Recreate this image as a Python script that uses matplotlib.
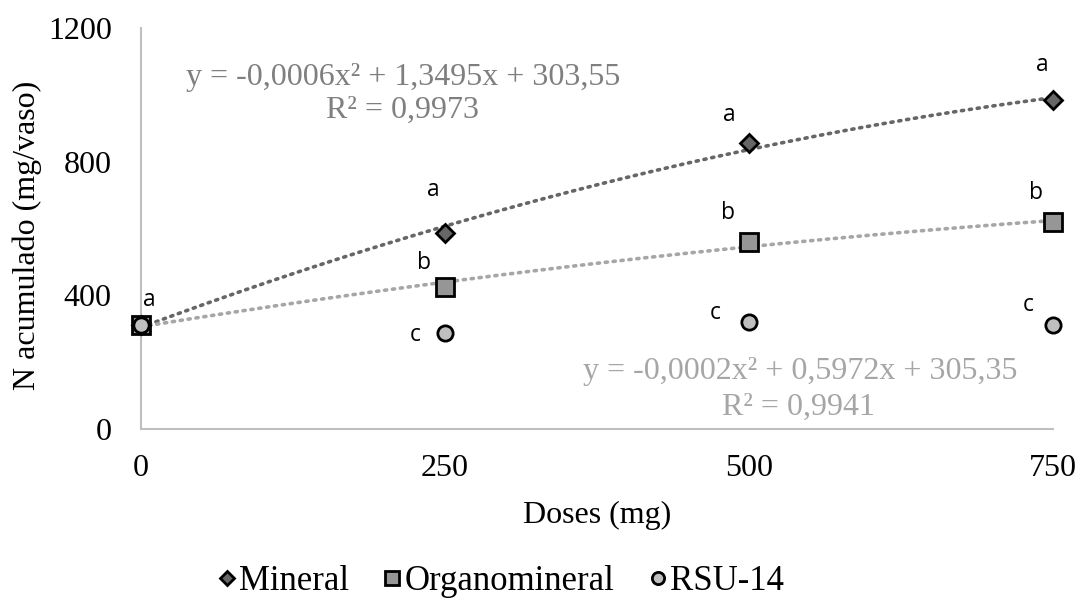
import numpy as np
import matplotlib
matplotlib.use("Agg")
import matplotlib.pyplot as plt

doses = [0, 250, 500, 750]
mineral = [311, 587, 856, 985]
organomineral = [311, 425, 560, 619]
rsu14 = [311, 287, 320, 311]
series_names = ["Mineral", "Organomineral", "RSU-14"]
letters_mineral = ["a", "a", "a", "a"]
letters_organo = ["", "b", "b", "b"]
letters_rsu = ["", "c", "c", "c"]
eq_mineral = ["y = -0,0006x\u00b2 + 1,3495x + 303,55", "R\u00b2 = 0,9973"]
eq_organo = ["y = -0,0002x\u00b2 + 0,5972x + 305,35", "R\u00b2 = 0,9941"]
yticks = [0, 400, 800, 1200]
xticks = [0, 250, 500, 750]

serif = "Liberation Serif"
sans = "Open Sans"

W, H = 1080, 601
L, R, T, B = 141, 1053, 28, 429
fig = plt.figure(figsize=(10.8, 6.01), dpi=100)
ax = fig.add_axes([L/W, 1-B/H, (R-L)/W, (B-T)/H])
ax.set_xlim(0, 750)
ax.set_ylim(0, 1200)

# trendlines (quadratic fit of the data, as in the original)
xx = np.linspace(0, 750, 200)
pm = np.polyfit(doses, mineral, 2)
po = np.polyfit(doses, organomineral, 2)
ax.plot(xx, np.polyval(pm, xx), color="#666666", lw=2.6, ls=(0, (0.6, 1.6)), dash_capstyle="round", zorder=2, clip_on=False)
ax.plot(xx, np.polyval(po, xx), color="#a6a6a6", lw=2.6, ls=(0, (0.6, 1.6)), dash_capstyle="round", zorder=2, clip_on=False)

kw = dict(ls="none", mec="black", mew=2.0, clip_on=False, zorder=3)
ax.plot(doses, mineral, marker="D", ms=9, mfc="#666666", label=series_names[0], **kw)
ax.plot(doses, organomineral, marker="s", ms=12.5, mfc="#969696", label=series_names[1], **kw)
ax.plot(doses, rsu14, marker="o", ms=11, mfc="#bfbfbf", label=series_names[2], **kw)

# significance letters
off_m = [(8, 25), (-12, 43), (-20, 28), (-11, 35)]
off_o = [(0, 0), (-21, 24), (-21, 29), (-17, 29)]
off_r = [(0, 0), (-30, -2), (-34, 9), (-25, 20)]
for vals, labs, offs in [(mineral, letters_mineral, off_m), (organomineral, letters_organo, off_o), (rsu14, letters_rsu, off_r)]:
    for x, y, l, o in zip(doses, vals, labs, offs):
        if l:
            ax.annotate(l, (x, y), xytext=o, textcoords="offset pixels", ha="center", va="center",
                        fontsize=16.5, family=sans, color="black", zorder=4)

# equations
fig.text(403/W, 1-77/H, eq_mineral[0], ha="center", va="center", fontsize=23, family=serif, color="#7f7f7f")
fig.text(403/W, 1-110/H, eq_mineral[1], ha="center", va="center", fontsize=23, family=serif, color="#7f7f7f")
fig.text(800/W, 1-372/H, eq_organo[0], ha="center", va="center", fontsize=23, family=serif, color="#a6a6a6")
fig.text(798/W, 1-407/H, eq_organo[1], ha="center", va="center", fontsize=23, family=serif, color="#a6a6a6")

for s in ["top", "right"]:
    ax.spines[s].set_visible(False)
for s in ["left", "bottom"]:
    ax.spines[s].set_color("#bfbfbf")
    ax.spines[s].set_linewidth(1.5)
ax.set_xticks(xticks)
ax.set_yticks(yticks)
ax.set_xticklabels([str(t) for t in xticks], family=serif, fontsize=23)
ax.set_yticklabels([str(t) for t in yticks], family=serif, fontsize=23)
ax.tick_params(length=0)
ax.tick_params(axis="x", pad=18)
ax.tick_params(axis="y", pad=21)
ax.set_xlabel("Doses (mg)", family=serif, fontsize=23)
ax.set_ylabel("N acumulado (mg/vaso)", family=serif, fontsize=23)
ax.xaxis.label.set_va("center")
ax.yaxis.label.set_va("center")
ax.xaxis.set_label_coords(0.5, (B-515)/(B-T))
ax.yaxis.set_label_coords((27-L)/(R-L), (B-235)/(B-T))

leg = fig.legend(loc="center", bbox_to_anchor=(501/W, 1-582/H), ncol=3, frameon=False,
                 prop={"family": serif, "size": 25}, handletextpad=0.1, columnspacing=1.0,
                 handlelength=0.5, markerscale=0.8)

fig.savefig("out.png", dpi=100)
